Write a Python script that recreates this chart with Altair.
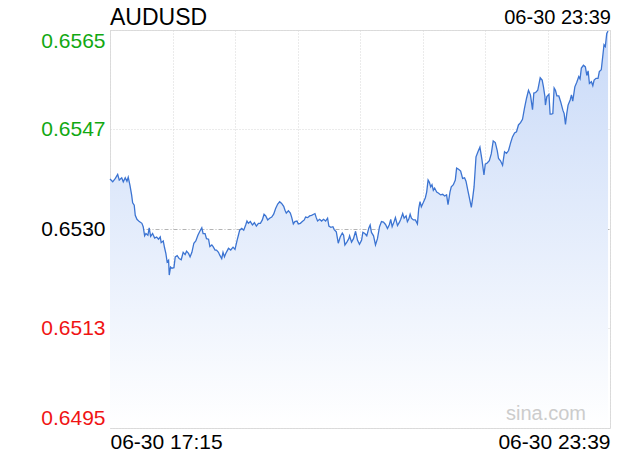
import altair as alt
import pandas as pd

# minutes after 06-30 17:15
minutes = [0, 2.1, 4.1, 5.9, 7.1, 9.0, 10.2, 11.7, 13.0, 14.0, 15.3, 16.6, 17.4, 18.6, 19.4, 20.7,
           22.5, 24.5, 25.5, 26.6, 27.6, 29.1, 30.1, 31.2, 32.7, 34.3, 35.8, 37.3, 38.6, 39.3, 40.9,
           41.9, 42.9, 43.9, 45.0, 45.5, 46.5, 47.5, 49.1, 50.1, 51.6, 53.1, 54.7, 56.2, 57.7, 58.8,
           60.3, 61.5, 62.9, 64.4, 65.9, 67.5, 69.0, 70.5, 71.5, 73.0, 74.1, 75.7, 76.7, 78.2, 79.2,
           80.7, 81.8, 83.3, 84.3, 85.8, 86.8, 87.9, 88.9, 91.0, 92.7, 94.5, 96.0, 97.6, 98.6, 99.6,
           101.2, 102.7, 104.2, 105.2, 106.3, 107.8, 109.4, 110.9, 112.4, 114.0, 115.5, 117.0, 118.3,
           119.6, 121.1, 122.6, 124.2, 125.7, 127.2, 128.8, 130.3, 131.8, 133.4, 134.4, 135.4, 137.0,
           138.5, 139.5, 140.8, 142.0, 143.6, 144.6, 146.2, 147.7, 149.2, 150.2, 151.8, 153.3, 154.8,
           156.4, 157.4, 158.4, 159.4, 161.0, 162.5, 164.0, 165.6, 167.1, 168.1, 169.6, 171.2, 172.2,
           173.8, 175.3, 176.8, 178.4, 179.4, 180.4, 181.9, 183.4, 184.0, 185.5, 187.0, 188.6, 190.1,
           191.6, 193.2, 194.2, 195.7, 197.2, 198.8, 199.8, 200.8, 202.4, 203.9, 205.4, 207.0, 208.5,
           210.0, 211.6, 213.1, 214.6, 215.6, 216.7, 218.2, 219.2, 220.8, 222.3, 223.3, 224.8, 225.9,
           227.4, 228.4, 229.4, 230.5, 231.5, 233.0, 234.5, 236.1, 237.1, 238.1, 239.1, 240.7, 242.2,
           243.2, 244.3, 245.3, 246.3, 247.3, 248.3, 249.3, 250.9, 252.4, 253.9, 255.5, 257.0, 258.5,
           259.6, 261.1, 262.1, 263.7, 265.2, 266.2, 267.7, 269.3, 270.8, 272.3, 273.4, 274.9, 275.9,
           277.5, 278.5, 279.6, 281.1, 282.6, 284.1, 285.7, 287.2, 288.2, 289.7, 291.3, 292.8, 294.3,
           295.9, 297.4, 298.4, 299.9, 301.5, 303.0, 304.5, 306.1, 307.6, 309.1, 310.7, 312.2, 313.7,
           315.3, 316.8, 318.3, 319.9, 321.4, 322.9, 324.5, 325.5, 326.9, 328.5, 330.4, 331.9, 332.9,
           334.0, 334.4, 335.5, 337.1, 338.0, 339.0, 340.1, 341.1, 342.1, 343.2, 344.7, 346.2, 347.8,
           348.8, 349.8, 350.8, 351.8, 353.4, 354.4, 355.4, 357.0, 358.5, 360.0, 361.0, 362.0, 363.6,
           365.1, 366.2, 367.2, 368.2, 369.7, 370.8, 371.8, 373.3, 374.8, 375.8, 377.3, 378.4, 379.4,
           380.4, 381.5, 382.5]

prices = [0.65388, 0.65383, 0.65389, 0.65396, 0.65386, 0.65390, 0.65383, 0.65390, 0.65384, 0.65391,
          0.65377, 0.65360, 0.65346, 0.65342, 0.65324, 0.65317, 0.65313, 0.65310, 0.65304, 0.65288,
          0.65292, 0.65289, 0.65302, 0.65287, 0.65292, 0.65284, 0.65286, 0.65282, 0.65286, 0.65276,
          0.65279, 0.65267, 0.65257, 0.65242, 0.65245, 0.65219, 0.65233, 0.65231, 0.65232, 0.65251,
          0.65253, 0.65248, 0.65246, 0.65259, 0.65255, 0.65261, 0.65257, 0.65251, 0.65259, 0.65275,
          0.65279, 0.65289, 0.65296, 0.65302, 0.65292, 0.65292, 0.65283, 0.65282, 0.65269, 0.65272,
          0.65269, 0.65263, 0.65263, 0.65259, 0.65254, 0.65248, 0.65259, 0.65251, 0.65257, 0.65266,
          0.65263, 0.65268, 0.65264, 0.65280, 0.65289, 0.65298, 0.65301, 0.65298, 0.65307, 0.65314,
          0.65310, 0.65313, 0.65307, 0.65311, 0.65305, 0.65310, 0.65310, 0.65316, 0.65326, 0.65323,
          0.65316, 0.65319, 0.65321, 0.65326, 0.65336, 0.65344, 0.65348, 0.65345, 0.65340, 0.65333,
          0.65328, 0.65332, 0.65328, 0.65321, 0.65309, 0.65313, 0.65314, 0.65309, 0.65310, 0.65313,
          0.65316, 0.65321, 0.65320, 0.65323, 0.65324, 0.65326, 0.65327, 0.65320, 0.65314, 0.65317,
          0.65314, 0.65317, 0.65314, 0.65319, 0.65305, 0.65303, 0.65304, 0.65299, 0.65295, 0.65275,
          0.65286, 0.65293, 0.65289, 0.65272, 0.65277, 0.65283, 0.65288, 0.65277, 0.65283, 0.65296,
          0.65280, 0.65273, 0.65280, 0.65294, 0.65292, 0.65288, 0.65302, 0.65307, 0.65294, 0.65288,
          0.65272, 0.65283, 0.65304, 0.65313, 0.65312, 0.65308, 0.65301, 0.65308, 0.65317, 0.65304,
          0.65313, 0.65320, 0.65306, 0.65312, 0.65317, 0.65327, 0.65319, 0.65323, 0.65313, 0.65317,
          0.65326, 0.65319, 0.65316, 0.65316, 0.65309, 0.65336, 0.65348, 0.65339, 0.65347, 0.65355,
          0.65365, 0.65386, 0.65382, 0.65374, 0.65378, 0.65368, 0.65372, 0.65365, 0.65363, 0.65360,
          0.65361, 0.65358, 0.65360, 0.65343, 0.65365, 0.65374, 0.65378, 0.65386, 0.65407, 0.65405,
          0.65402, 0.65389, 0.65390, 0.65384, 0.65367, 0.65356, 0.65338, 0.65354, 0.65374, 0.65427,
          0.65436, 0.65444, 0.65421, 0.65395, 0.65414, 0.65416, 0.65420, 0.65432, 0.65455, 0.65452,
          0.65438, 0.65424, 0.65420, 0.65412, 0.65436, 0.65433, 0.65438, 0.65451, 0.65462, 0.65469,
          0.65471, 0.65483, 0.65487, 0.65493, 0.65512, 0.65530, 0.65544, 0.65536, 0.65510, 0.65539,
          0.65540, 0.65544, 0.65566, 0.65562, 0.65550, 0.65533, 0.65518, 0.65533, 0.65537, 0.65502,
          0.65502, 0.65503, 0.65548, 0.65544, 0.65534, 0.65534, 0.65523, 0.65509, 0.65503, 0.65484,
          0.65503, 0.65518, 0.65527, 0.65536, 0.65525, 0.65550, 0.65558, 0.65568, 0.65564, 0.65583,
          0.65588, 0.65585, 0.65570, 0.65578, 0.65556, 0.65559, 0.65552, 0.65562, 0.65565, 0.65565,
          0.65577, 0.65580, 0.65603, 0.65624, 0.65621, 0.65644, 0.65648]

symbol = "AUDUSD"
x_tick_labels = ["06-30 17:15", "06-30 23:39"]
x_span = 384  # minutes from 17:15 to 23:39
x_grid = [0, 48, 96, 144, 192, 240, 288, 336, 384]
prev_close = 0.6530
y_tick_values = [0.6495, 0.65125, 0.6530, 0.65475, 0.6565]
y_tick_labels = ["0.6495", "0.6513", "0.6530", "0.6547", "0.6565"]
watermark = "sina.com"

df = pd.DataFrame({"t": minutes, "p": prices})

FONT = "Liberation Sans"

label_arr = "[" + ",".join("'%s'" % s for s in y_tick_labels) + "]"
y_label_expr = "%s[round((datum.value - %r) / %r)]" % (
    label_arr, y_tick_values[0], (y_tick_values[-1] - y_tick_values[0]) / (len(y_tick_values) - 1))
x_label_expr = "datum.value == 0 ? '%s' : (datum.value == %d ? '%s' : '')" % (
    x_tick_labels[0], x_span, x_tick_labels[1])

is_mid = "abs(datum.value - %r) < 1e-7" % prev_close

x_enc = alt.X("t:Q", scale=alt.Scale(domain=[0, x_span], nice=False, zero=False),
              axis=alt.Axis(values=x_grid, labelExpr=x_label_expr, title=None, ticks=False,
                            domain=False, labelFlush=True, labelOverlap=False,
                            labelFont=FONT, labelFontSize=21, labelColor="#000000",
                            labelPadding=3, grid=True, gridColor="#d6d6d6",
                            gridDash=[1, 2], gridWidth=1))
y_scale = alt.Scale(domain=[y_tick_values[0], y_tick_values[-1]], nice=False, zero=False)
y_enc = alt.Y("p:Q", scale=y_scale,
              axis=alt.Axis(values=y_tick_values, labelExpr=y_label_expr, title=None,
                            ticks=False, domain=False, labelFlush=True, labelOverlap=False,
                            labelFont=FONT, labelFontSize=21, labelPadding=5,
                            labelColor={"condition": [
                                {"test": "datum.value > %r" % (prev_close + 1e-5), "value": "#12a812"},
                                {"test": "datum.value < %r" % (prev_close - 1e-5), "value": "#f01414"}],
                                "value": "#000000"},
                            grid=True,
                            gridColor={"condition": {"test": is_mid, "value": "#b4b4b4"},
                                       "value": "#d6d6d6"},
                            gridDash={"condition": {"test": is_mid, "value": [4, 2, 1, 2]},
                                      "value": [1, 2]}))

base = alt.Chart(df)

area = base.mark_area(
    color=alt.Gradient(gradient="linear",
                       stops=[alt.GradientStop(color="#ffffff", offset=0),
                              alt.GradientStop(color="#c9daf8", offset=1)],
                       x1=1, x2=1, y1=1, y2=0),
    opacity=1,
).encode(x=x_enc, y=y_enc, y2=alt.datum(y_tick_values[0]))

line = base.mark_line(color="#3c74d2", strokeWidth=1.3).encode(x="t:Q", y="p:Q")

title_txt = alt.Chart(pd.DataFrame({"s": [symbol]})).mark_text(
    align="left", baseline="alphabetic", font=FONT, fontSize=23, color="#000000"
).encode(x=alt.value(0), y=alt.value(-5), text="s:N")

date_txt = alt.Chart(pd.DataFrame({"s": [x_tick_labels[-1]]})).mark_text(
    align="right", baseline="alphabetic", font=FONT, fontSize=20, color="#000000"
).encode(x=alt.value(501), y=alt.value(-6), text="s:N")

wm_txt = alt.Chart(pd.DataFrame({"s": [watermark]})).mark_text(
    align="right", baseline="middle", font=FONT, fontSize=20, color="#cccccc"
).encode(x=alt.value(476), y=alt.value(384), text="s:N")

chart = alt.layer(area, line, wm_txt, title_txt, date_txt).properties(
    width=500, height=398,
    autosize=alt.AutoSizeParams(type="none"),
    padding={"left": 102, "top": 22, "right": 2, "bottom": 24},
).configure_view(stroke="#cccccc", strokeWidth=1).configure(background="#ffffff")

chart.save("out.html", embed_options={"renderer": "svg", "actions": False})
